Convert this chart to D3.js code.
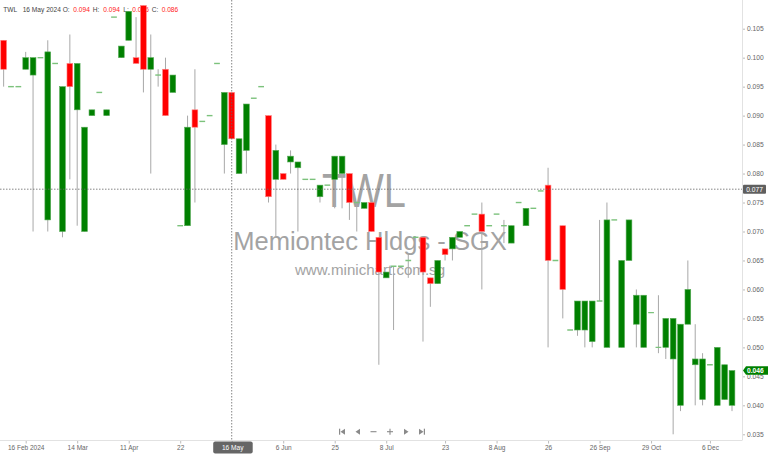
<!DOCTYPE html>
<html><head><meta charset="utf-8">
<script src="https://cdn.jsdelivr.net/npm/d3@7/dist/d3.min.js"></script>
<style>
body{margin:0;background:#fff;}
svg{display:block;font-family:"Liberation Sans",Arial,sans-serif;}
</style>
</head><body>
<svg id="chart" width="768" height="454"></svg>
<script>
// ---------- DATA ----------
const openP = [
0.103,0.095,0.095,0.098,0.097,0.100,0.072,0.099,0.070,0.099,
0.091,0.070,0.090,0.094,0.090,0.107,0.100,0.103,0.100,0.109,
0.098,0.097,0.098,0.094,0.071,0.071,0.091,0.089,0.090,0.099,
0.085,0.094,0.080,0.084,0.093,0.095,0.090,0.079,0.080,0.082,
0.081,0.079,0.079,0.076,0.078,0.079,0.080,0.080,0.075,0.074,
0.075,0.069,0.062,0.064,0.064,0.065,0.069,0.069,0.062,0.061,
0.067,0.067,0.069,0.071,0.073,0.073,0.071,0.073,0.071,0.068,
0.075,0.071,0.074,0.077,0.078,0.065,0.071,0.053,0.053,0.053,
0.051,0.058,0.050,0.072,0.050,0.065,0.054,0.050,0.056,0.050,
0.050,0.048,0.040,0.054,0.047,0.041,0.047,0.040,0.041,0.040];
const highP = [
0.103,0.095,0.095,0.101,0.100,0.100,0.103,0.099,0.095,0.104,
0.099,0.088,0.091,0.094,0.091,0.107,0.102,0.108,0.107,0.109,
0.104,0.098,0.100,0.097,0.071,0.090,0.098,0.089,0.090,0.099,
0.094,0.094,0.086,0.092,0.093,0.095,0.090,0.085,0.080,0.084,
0.082,0.079,0.079,0.078,0.078,0.083,0.083,0.080,0.075,0.075,
0.075,0.069,0.063,0.064,0.064,0.066,0.069,0.069,0.062,0.065,
0.067,0.069,0.070,0.071,0.073,0.075,0.071,0.073,0.072,0.071,
0.075,0.074,0.074,0.077,0.081,0.065,0.071,0.053,0.058,0.058,
0.058,0.072,0.075,0.072,0.065,0.072,0.060,0.059,0.056,0.059,
0.055,0.055,0.054,0.065,0.054,0.049,0.047,0.050,0.047,0.046];
const lowP = [
0.095,0.095,0.095,0.098,0.070,0.100,0.070,0.099,0.069,0.079,
0.071,0.070,0.090,0.094,0.090,0.107,0.100,0.103,0.099,0.094,
0.080,0.095,0.090,0.094,0.071,0.071,0.075,0.089,0.090,0.099,
0.080,0.086,0.080,0.080,0.093,0.095,0.075,0.069,0.079,0.080,
0.070,0.079,0.079,0.075,0.078,0.074,0.074,0.072,0.070,0.074,
0.070,0.047,0.062,0.053,0.064,0.062,0.069,0.051,0.057,0.061,
0.065,0.065,0.069,0.071,0.073,0.060,0.071,0.073,0.068,0.068,
0.075,0.071,0.074,0.077,0.050,0.065,0.055,0.053,0.052,0.050,
0.050,0.058,0.050,0.072,0.050,0.065,0.050,0.050,0.056,0.049,
0.048,0.035,0.039,0.054,0.040,0.040,0.047,0.040,0.041,0.039];
const closeP = [
0.098,0.095,0.095,0.100,0.100,0.100,0.101,0.099,0.095,0.095,
0.099,0.088,0.091,0.094,0.091,0.107,0.102,0.108,0.099,0.098,
0.100,0.097,0.090,0.097,0.071,0.088,0.088,0.089,0.090,0.099,
0.094,0.086,0.086,0.092,0.093,0.095,0.076,0.084,0.079,0.083,
0.082,0.079,0.079,0.078,0.078,0.083,0.083,0.075,0.075,0.075,
0.070,0.063,0.063,0.064,0.064,0.065,0.069,0.063,0.061,0.065,
0.066,0.069,0.070,0.071,0.073,0.070,0.071,0.073,0.071,0.071,
0.075,0.074,0.074,0.077,0.065,0.065,0.060,0.053,0.058,0.058,
0.058,0.058,0.072,0.072,0.065,0.072,0.059,0.059,0.056,0.050,
0.055,0.055,0.054,0.060,0.048,0.048,0.047,0.050,0.047,0.046];
const yTicks = [0.035,0.040,0.045,0.050,0.055,0.060,0.065,0.070,0.075,0.080,0.085,0.090,0.095,0.100,0.105];
const tickBars = [3,10,17,24,31,38,45,52,60,67,74,81,88,96];
const tickLabels = ["16 Feb 2024","14 Mar","11 Apr","22","16 May","6 Jun","25","8 Jul","23","8 Aug","26","26 Sep","29 Oct","6 Dec"];
const symbol = "TWL";
const company = "Memiontec Hldgs - SGX";
const site = "www.minichart.com.sg";
const crossBar = 31;
const crossDate = "16 May 2024";
const crossValue = 0.0773;

// ---------- LAYOUT ----------
const W = 768, H = 454, plotR = 742, plotB = 440.5;
const n = closeP.length;
const bars = d3.range(n).map(i => ({i, o: openP[i], h: highP[i], l: lowP[i], c: closeP[i]}));
const x = d3.scalePoint().domain(d3.range(n)).range([3.63, 732]);
const y = d3.scaleLinear().domain([0.035, 0.105]).range([434.3, 28.7]);
const bw = x.step() * 0.78;
const fmt = d3.format(".3f");

const svg = d3.select("#chart");
svg.append("defs").append("clipPath").attr("id","plot")
  .append("rect").attr("x",0).attr("y",0).attr("width",plotR).attr("height",plotB);

// watermark
const wm = svg.append("g").attr("fill","#a3a3a3").attr("text-anchor","middle");
wm.append("text").attr("x",364).attr("y",206.5).attr("font-size",48)
  .attr("textLength",84).attr("lengthAdjust","spacingAndGlyphs").text(symbol);
wm.append("text").attr("x",370).attr("y",250).attr("font-size",25.5).text(company);
wm.append("text").attr("x",370).attr("y",274.5).attr("font-size",15.1).text(site);

// header
const hd = svg.append("g").attr("font-size",6.6).attr("fill","#444");
const headerItems = [
  {t: symbol, x: 3.3, c: "#444"},
  {t: crossDate, x: 22.7, c: "#444"},
  {t: "O:", x: 62.7, c: "#444"}, {t: fmt(openP[crossBar]), x: 73.3, c: "#ff2020"},
  {t: "H:", x: 92.7, c: "#444"}, {t: fmt(highP[crossBar]), x: 103.3, c: "#ff2020"},
  {t: "L:", x: 123.3, c: "#444"}, {t: fmt(lowP[crossBar]), x: 132.3, c: "#ff2020"},
  {t: "C:", x: 151.7, c: "#444"}, {t: fmt(closeP[crossBar]), x: 161.7, c: "#ff2020"}
];
hd.selectAll("text").data(headerItems).join("text")
  .attr("x", d => d.x).attr("y", 12.3).attr("fill", d => d.c).text(d => d.t);

// candles
const g = svg.append("g").attr("clip-path","url(#plot)");
g.selectAll("line.wick").data(bars.filter(d => d.h > d.l)).join("line")
  .attr("class","wick")
  .attr("x1", d => x(d.i)).attr("x2", d => x(d.i))
  .attr("y1", d => y(d.h)).attr("y2", d => y(d.l))
  .attr("stroke","#a8a8a8").attr("stroke-width",1);
g.selectAll("rect.body").data(bars.filter(d => d.o !== d.c)).join("rect")
  .attr("class","body")
  .attr("x", d => x(d.i) - bw/2).attr("width", bw)
  .attr("y", d => y(Math.max(d.o, d.c)))
  .attr("height", d => y(Math.min(d.o, d.c)) - y(Math.max(d.o, d.c)))
  .attr("fill", d => d.c > d.o ? "#008000" : "#ff0000")
  .attr("stroke", d => d.c > d.o ? "#55aa55" : "#ff8080")
  .attr("stroke-width", 0.6);
g.selectAll("line.doji").data(bars.filter(d => d.o === d.c)).join("line")
  .attr("class","doji")
  .attr("x1", d => x(d.i) - bw/2).attr("x2", d => x(d.i) + bw/2)
  .attr("y1", d => y(d.c)).attr("y2", d => y(d.c))
  .attr("stroke","#7cc27c").attr("stroke-width",1.4);

// crosshair
const cx = x(crossBar), cy = y(crossValue);
svg.append("line").attr("x1",cx).attr("x2",cx).attr("y1",0).attr("y2",plotB)
  .attr("stroke","#666").attr("stroke-width",0.8).attr("stroke-dasharray","1.5,1.5");
svg.append("line").attr("x1",0).attr("x2",plotR).attr("y1",cy).attr("y2",cy)
  .attr("stroke","#666").attr("stroke-width",0.8).attr("stroke-dasharray","1.5,1.5");

// right axis
const ya = svg.append("g").attr("transform",`translate(${plotR},0)`)
  .call(d3.axisRight(y).tickValues(yTicks).tickFormat(fmt).tickSize(3).tickPadding(2));
ya.select(".domain").remove();
ya.selectAll(".tick line").attr("stroke","#bbb");
ya.selectAll(".tick text").attr("fill","#666").attr("font-size",6.7)
  .attr("font-family","'Liberation Sans',Arial,sans-serif");
svg.append("line").attr("x1",plotR+0.5).attr("x2",plotR+0.5).attr("y1",0).attr("y2",plotB)
  .attr("stroke","#e2e2e2");

// bottom axis
const xa = svg.append("g").attr("transform",`translate(0,${plotB})`)
  .call(d3.axisBottom(x).tickValues(tickBars).tickFormat((d,k) => tickLabels[k]).tickSize(3).tickPadding(2));
xa.select(".domain").remove();
xa.selectAll(".tick line").attr("stroke","#bbb");
xa.selectAll(".tick text").attr("fill","#666").attr("font-size",6.5)
  .attr("font-family","'Liberation Sans',Arial,sans-serif");
svg.append("line").attr("x1",0).attr("x2",plotR).attr("y1",plotB).attr("y2",plotB)
  .attr("stroke","#e2e2e2");

// crosshair labels
svg.append("rect").attr("x",cx-18.5).attr("y",plotB+1).attr("width",39.5).attr("height",12).attr("rx",2)
  .attr("fill","#666");
svg.append("text").attr("x",cx+1).attr("y",plotB+9.3).attr("text-anchor","middle")
  .attr("font-size",6.6).attr("fill","#fff").text(tickLabels[tickBars.indexOf(crossBar)]);
svg.append("rect").attr("x",plotR+1).attr("y",cy-4.5).attr("width",23).attr("height",9).attr("rx",1)
  .attr("fill","#5f5f5f");
svg.append("text").attr("x",plotR+12.5).attr("y",cy+2.4).attr("text-anchor","middle")
  .attr("font-size",6.7).attr("fill","#fff").text(fmt(crossValue));

// last price label
const lastV = closeP[n-1], ly = y(lastV);
svg.append("path")
  .attr("d",`M${plotR+1},${ly} L${plotR+4},${ly-4.3} L${W},${ly-4.3} L${W},${ly+4.3} L${plotR+4},${ly+4.3} Z`)
  .attr("fill","#008000");
svg.append("text").attr("x",plotR+5).attr("y",ly+2.4).attr("font-size",6.7).attr("font-weight","bold")
  .attr("fill","#fff").text(fmt(lastV));

// navigation buttons
const nav = svg.append("g").attr("fill","#8a8a8a").attr("stroke","#8a8a8a");
const ny = 431.7;
nav.append("rect").attr("x",339).attr("y",ny-3).attr("width",1.2).attr("height",6).attr("stroke","none");
nav.append("path").attr("d",`M340.5,${ny} L345,${ny-3} L345,${ny+3} Z`).attr("stroke","none");
nav.append("path").attr("d",`M355.5,${ny} L360,${ny-3} L360,${ny+3} Z`).attr("stroke","none");
nav.append("line").attr("x1",370.5).attr("x2",376.5).attr("y1",ny).attr("y2",ny).attr("stroke-width",1.1);
nav.append("line").attr("x1",387).attr("x2",393).attr("y1",ny).attr("y2",ny).attr("stroke-width",1.1);
nav.append("line").attr("x1",390).attr("x2",390).attr("y1",ny-3).attr("y2",ny+3).attr("stroke-width",1.1);
nav.append("path").attr("d",`M408.5,${ny} L404,${ny-3} L404,${ny+3} Z`).attr("stroke","none");
nav.append("path").attr("d",`M423.5,${ny} L419,${ny-3} L419,${ny+3} Z`).attr("stroke","none");
nav.append("rect").attr("x",423.8).attr("y",ny-3).attr("width",1.2).attr("height",6).attr("stroke","none");
</script>
</body></html>
